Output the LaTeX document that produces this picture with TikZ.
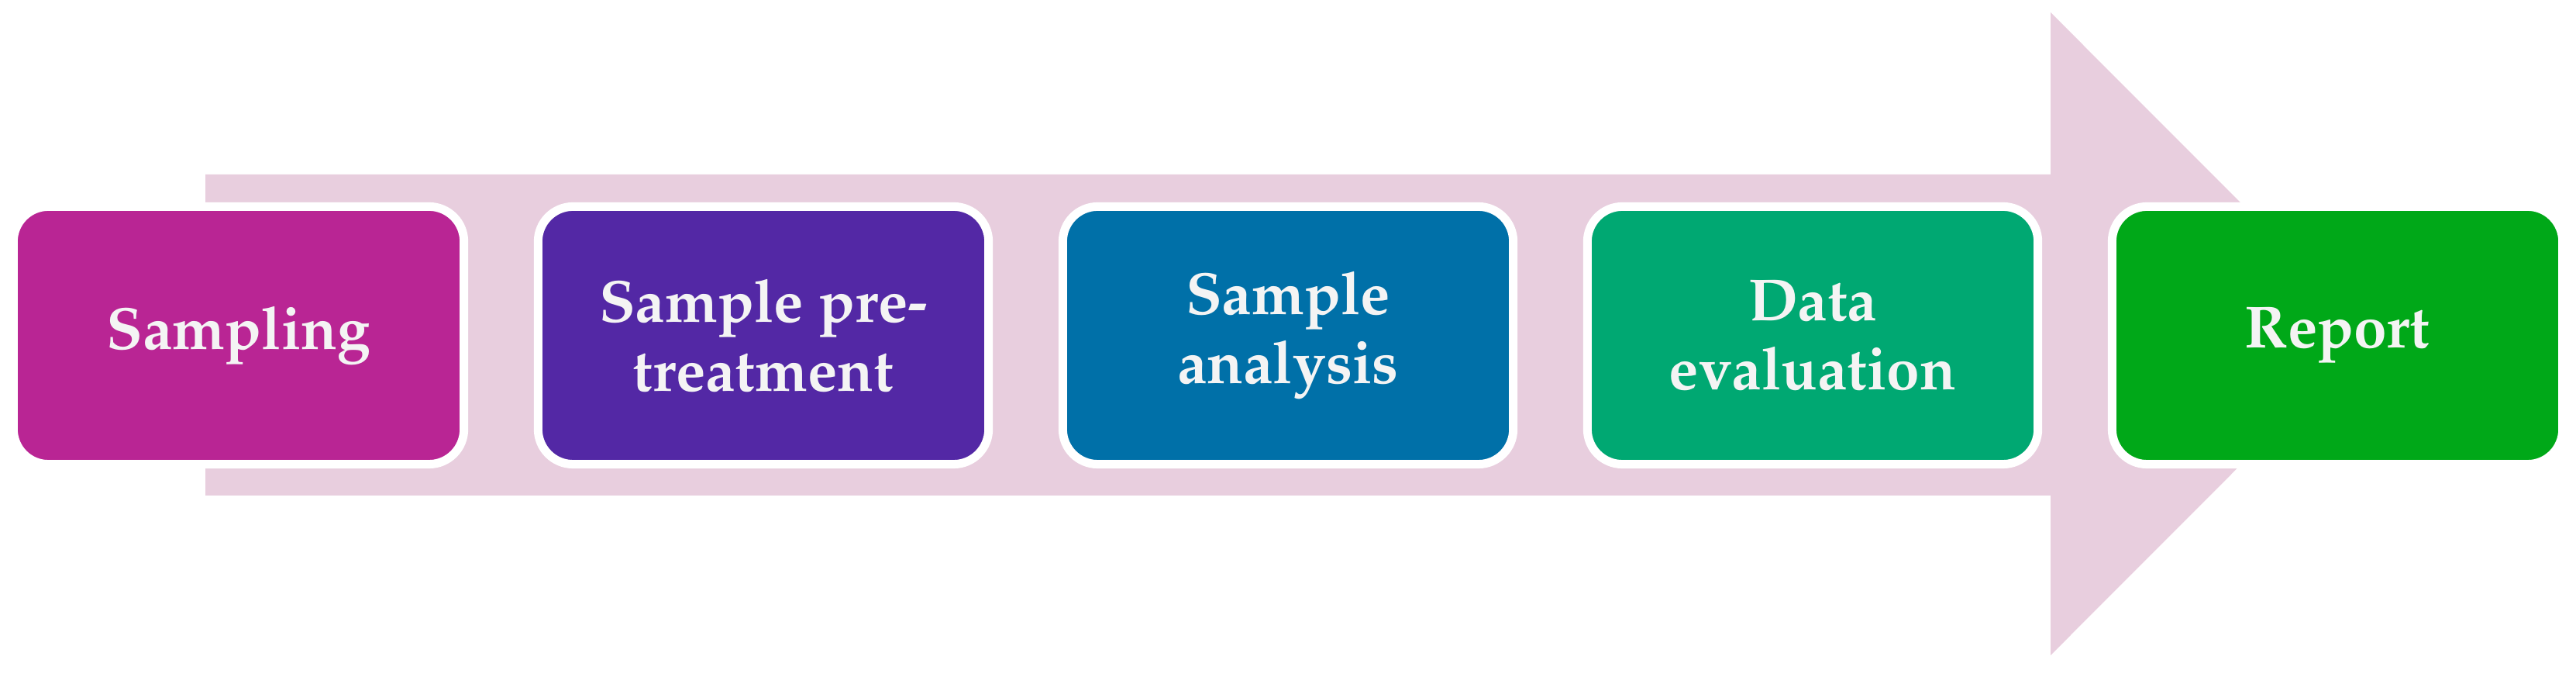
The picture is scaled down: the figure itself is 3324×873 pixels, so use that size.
\documentclass[tikz,border=0pt]{standalone}
\usepackage[T1]{fontenc}
\usepackage{mathpazo}
\definecolor{arrowpink}{RGB}{232,206,222}
\definecolor{cA}{RGB}{185,37,148}
\definecolor{cB}{RGB}{83,40,165}
\definecolor{cC}{RGB}{0,112,168}
\definecolor{cD}{RGB}{0,168,114}
\definecolor{cE}{RGB}{0,168,24}
\definecolor{txtwhite}{RGB}{244,244,244}
\begin{document}
\begin{tikzpicture}[x=0.01cm,y=0.01cm,
  stepbox/.style={rectangle, rounded corners=0.45cm, draw=white, line width=3.13pt,
    minimum width=5.81cm, minimum height=3.32cm, inner sep=0pt, align=center,
    text=txtwhite, font=\fontsize{21.8}{25.3}\selectfont\bfseries}]
\useasboundingbox (0,0) rectangle (3324,873);
\fill[arrowpink] (265,648) -- (2646,648) -- (2646,857) -- (3060,442.5) -- (2646,28) -- (2646,234) -- (265,234) -- cycle;
\node[stepbox, fill=cA] (s1) at (308,440.5) {Sampling};
\node[stepbox, fill=cB] (s2) at (985,440.5) {Sample pre-\\treatment};
\node[stepbox, fill=cC] (s3) at (1662,440.5) {Sample\\analysis};
\node[stepbox, fill=cD] (s4) at (2339,440.5) {Data\\evaluation};
\node[stepbox, fill=cE] (s5) at (3016,440.5) {Report};
\end{tikzpicture}
\end{document}
